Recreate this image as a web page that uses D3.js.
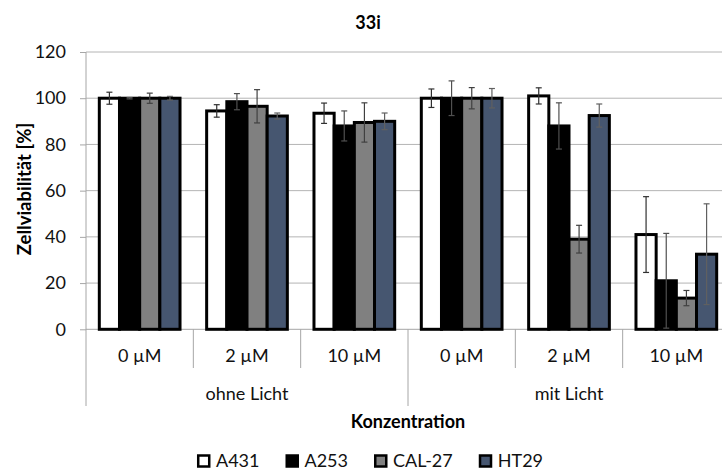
<!DOCTYPE html>
<html>
<head>
<meta charset="utf-8">
<script src="https://cdn.jsdelivr.net/npm/d3@7"></script>
<style>
  html, body { margin: 0; padding: 0; background: #fff; }
  svg { display: block; font-family: "Lato", "Noto Sans", sans-serif; }
</style>
</head>
<body>
<svg id="chart" width="722" height="472"></svg>
<script>
// Cell viability per cell line, concentration and light condition
const title = "33i";
const groups = ["ohne Licht", "mit Licht"];
const concentrations = ["0 µM", "2 µM", "10 µM"];
const series = ["A431", "A253", "CAL-27", "HT29"];
const yTicks = [0, 20, 40, 60, 80, 100, 120];

// mean values, one array per cell line, in category order
// (ohne Licht: 0, 2, 10 µM; mit Licht: 0, 2, 10 µM)
const valA431  = [100, 94.5, 93.5, 100, 101, 41];
const valA253  = [100, 98.5, 88, 100, 88, 21];
const valCAL27 = [100, 96.5, 89.5, 100, 39, 13.5];
const valHT29  = [100, 92.3, 90, 100, 92.5, 32.5];

// standard deviations
const errA431  = [2.6, 2.7, 4.4, 4, 3.5, 16.4];
const errA253  = [0.3, 3.5, 6.5, 7.5, 10, 20.5];
const errCAL27 = [2.2, 7.2, 8.5, 4.6, 6, 3.3];
const errHT29  = [0.8, 1.3, 3.6, 4.2, 5, 21.8];

const values = [valA431, valA253, valCAL27, valHT29];
const errors = [errA431, errA253, errCAL27, errHT29];
const fills = ["#ffffff", "#000000", "#808080", "#465670"];
const errColors = ["#303030", "#505050", "#404040", "#606060"];

const categories = [];
groups.forEach(g => concentrations.forEach(c => categories.push({ group: g, conc: c, key: g + "|" + c })));

const svg = d3.select("#chart");
const plotLeft = 86, plotRight = 730, plotTop = 52, plotBottom = 329.3;
const labelSize = "18px";

const x = d3.scaleBand().domain(categories.map(d => d.key)).range([plotLeft, plotRight]).padding(0);
const xInner = d3.scaleBand().domain(series).range([0, x.bandwidth()]).paddingInner(0).paddingOuter(0.66);
const y = d3.scaleLinear().domain([0, 120]).range([plotBottom, plotTop]);

// horizontal gridlines
svg.append("g")
  .selectAll("line")
  .data(yTicks.filter(t => t > 0))
  .join("line")
  .attr("x1", plotLeft).attr("x2", plotRight)
  .attr("y1", d => y(d)).attr("y2", d => y(d))
  .attr("stroke", "#b4b4b4").attr("stroke-width", 1);

// y axis with tick labels
const yAxis = d3.axisLeft(y).tickValues(yTicks).tickSize(6).tickPadding(14);
const gy = svg.append("g").attr("transform", `translate(${plotLeft},0)`).call(yAxis);
gy.select(".domain").remove();
gy.selectAll(".tick line").attr("stroke", "#a6a6a6");
gy.selectAll(".tick text").attr("font-size", labelSize).attr("fill", "#111").attr("font-family", "Lato, 'Noto Sans', sans-serif");
svg.append("line")
  .attr("x1", plotLeft).attr("x2", plotLeft).attr("y1", plotTop).attr("y2", 406)
  .attr("stroke", "#a6a6a6");

// x baseline
svg.append("line")
  .attr("x1", plotLeft).attr("x2", plotRight).attr("y1", y(0)).attr("y2", y(0))
  .attr("stroke", "#a6a6a6");

// category dividers (short) and group divider (long)
categories.forEach((c, i) => {
  if (i === 0) return;
  const xx = x(c.key);
  const isGroupEdge = i % concentrations.length === 0;
  svg.append("line")
    .attr("x1", xx).attr("x2", xx)
    .attr("y1", y(0)).attr("y2", isGroupEdge ? 406 : 368)
    .attr("stroke", "#a6a6a6");
});

// bars
series.forEach((s, si) => {
  svg.append("g")
    .selectAll("rect")
    .data(categories.map((c, ci) => ({ c, v: values[si][ci] })))
    .join("rect")
    .attr("x", d => x(d.c.key) + xInner(s))
    .attr("width", xInner.bandwidth())
    .attr("y", d => y(d.v))
    .attr("height", d => y(0) - y(d.v))
    .attr("fill", fills[si])
    .attr("stroke", "#000")
    .attr("stroke-width", 3);
});

// error bars drawn over the bars
series.forEach((s, si) => {
  const g = svg.append("g").attr("stroke", errColors[si]).attr("stroke-width", 1.2);
  categories.forEach((c, ci) => {
    const cx = x(c.key) + xInner(s) + xInner.bandwidth() / 2;
    const v = values[si][ci], e = errors[si][ci];
    g.append("line").attr("x1", cx).attr("x2", cx).attr("y1", y(v + e)).attr("y2", y(v - e));
    [v + e, v - e].forEach(t => {
      g.append("line").attr("x1", cx - 3).attr("x2", cx + 3).attr("y1", y(t)).attr("y2", y(t));
    });
  });
});

// concentration labels
svg.append("g")
  .selectAll("text")
  .data(categories)
  .join("text")
  .attr("x", d => x(d.key) + x.bandwidth() / 2)
  .attr("y", 362)
  .attr("text-anchor", "middle")
  .attr("font-size", labelSize)
  .attr("fill", "#111")
  .text(d => d.conc);

// group labels
groups.forEach((g, gi) => {
  const first = categories[gi * concentrations.length].key;
  const last = categories[gi * concentrations.length + concentrations.length - 1].key;
  svg.append("text")
    .attr("x", (x(first) + x(last) + x.bandwidth()) / 2)
    .attr("y", 400)
    .attr("text-anchor", "middle")
    .attr("font-size", labelSize)
    .attr("fill", "#111")
    .text(g);
});

// axis titles
svg.append("text")
  .attr("x", (plotLeft + plotRight) / 2).attr("y", 428)
  .attr("text-anchor", "middle")
  .attr("font-size", "18px").attr("font-weight", "bold")
  .text("Konzentration");

svg.append("text")
  .attr("transform", "translate(31,189) rotate(-90)")
  .attr("text-anchor", "middle")
  .attr("font-size", "18.5px").attr("font-weight", "bold")
  .text("Zellviabilität [%]");

// chart title
svg.append("text")
  .attr("x", 368).attr("y", 29)
  .attr("text-anchor", "middle")
  .attr("font-size", "18px").attr("font-weight", "bold")
  .text(title);

// legend
const legend = svg.append("g");
let lx = 0;
series.forEach((s, si) => {
  const item = legend.append("g").attr("transform", `translate(${lx},0)`);
  item.append("rect")
    .attr("x", 1.25).attr("y", 455.5).attr("width", 11).attr("height", 11)
    .attr("fill", fills[si]).attr("stroke", "#000").attr("stroke-width", 2.5);
  const t = item.append("text")
    .attr("x", 19).attr("y", 467)
    .attr("font-size", labelSize).attr("fill", "#111")
    .text(s);
  lx += 19 + t.node().getComputedTextLength() + 26;
});
const lw = lx - 26;
legend.attr("transform", `translate(${370 - lw / 2},0)`);
</script>
</body>
</html>
